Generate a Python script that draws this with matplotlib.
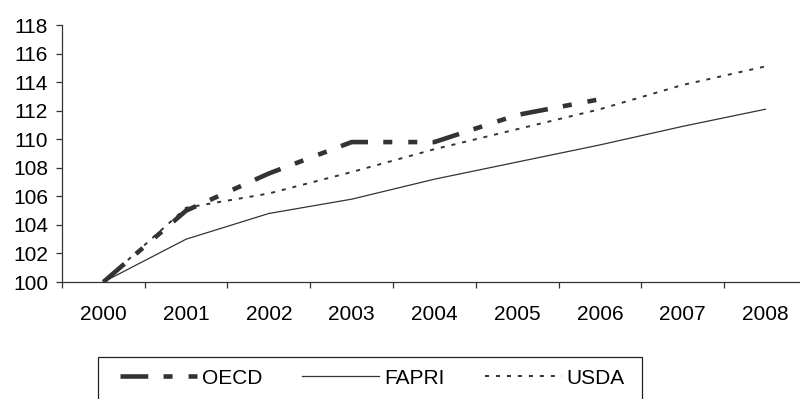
import matplotlib
matplotlib.use("Agg")
import matplotlib.pyplot as plt
from matplotlib.patches import Rectangle
import numpy as np

plt.rcParams['font.family'] = ['Liberation Sans', 'DejaVu Sans']
plt.rcParams['lines.scale_dashes'] = False

years = ['2000', '2001', '2002', '2003', '2004', '2005', '2006', '2007', '2008']
oecd = [100.0, 105.0, 107.6, 109.8, 109.8, 111.7, 112.8]
fapri = [100.0, 103.0, 104.8, 105.8, 107.2, 108.4, 109.6, 110.9, 112.1]
usda = [100.0, 105.2, 106.2, 107.7, 109.3, 110.7, 112.1, 113.8, 115.1]
y_ticks = [100, 102, 104, 106, 108, 110, 112, 114, 116, 118]

W, H = 800, 399
fs = 15
fig = plt.figure(figsize=(W / 100, H / 100), dpi=100)
ax = fig.add_axes([62 / W, 1 - 282 / H, 744.75 / W, (282 - 25) / H])

line_col = '#333333'
x = np.arange(len(years))
ax.plot(x[:len(oecd)], oecd, color=line_col, lw=3.3,
        dashes=(20, 11, 6.5, 11.5, 6.5, 11), solid_capstyle='butt',
        dash_capstyle='butt', label='OECD')
ax.plot(x, fapri, color=line_col, lw=0.9, label='FAPRI')
ax.plot(x, usda, color=line_col, lw=1.4, dashes=(2.9, 5.0),
        dash_capstyle='butt', label='USDA')

ax.set_xlim(-0.5, len(years) - 0.5)
ax.set_ylim(100, 118)
ax.set_yticks(y_ticks)
ax.set_yticklabels([str(v) for v in y_ticks], fontsize=fs)

# category labels centred, tick marks on category boundaries
ax.set_xticks(x)
ax.set_xticklabels(years, fontsize=fs)
ax.tick_params(axis='x', which='major', length=0, pad=16.5)
ax.set_xticks(np.arange(-0.5, len(years) + 0.5, 1.0), minor=True)
ax.tick_params(axis='x', which='minor', length=4, width=0.9, color=line_col)
ax.tick_params(axis='y', length=4, width=0.9, color=line_col, pad=6)

for s in ['top', 'right']:
    ax.spines[s].set_visible(False)
for s in ['left', 'bottom']:
    ax.spines[s].set_color(line_col)
    ax.spines[s].set_linewidth(0.9)

# legend box below the plot, running off the bottom edge
fig.add_artist(Rectangle((97.7 / W, -0.05), (642 - 97.7) / W,
                         (1 - 357 / H) + 0.05, transform=fig.transFigure,
                         fill=False, ec='#222222', lw=0.9))
leg = fig.legend(loc='center left', bbox_to_anchor=(120 / W, 1 - 378 / H),
                 ncol=3, frameon=False, fontsize=fs,
                 handlelength=3.7, handletextpad=0.25, columnspacing=1.9,
                 borderpad=0, borderaxespad=0)

fig.savefig('out.png', dpi=100)
